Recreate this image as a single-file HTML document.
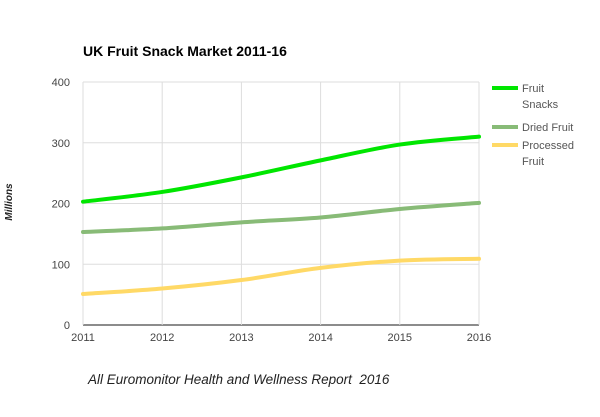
<!DOCTYPE html>
<html><head><meta charset="utf-8"><style>
body{margin:0;background:#fff;width:600px;height:412px;overflow:hidden;font-family:"Liberation Sans",sans-serif}
</style></head><body>
<svg id="chart" width="600" height="412">
<text x="83" y="56" font-size="14" font-weight="bold" fill="#000">UK Fruit Snack Market 2011-16</text>
<text transform="translate(12,202) rotate(-90)" text-anchor="middle" font-size="10" font-weight="bold" font-style="italic" fill="#222">Millions</text>
<text x="88" y="384" font-size="13.5" font-style="italic" fill="#222" xml:space="preserve">All Euromonitor Health and Wellness Report  2016</text>
<g id="grid"></g><g id="series"></g>
<g font-size="11" fill="#555">
<line x1="492" y1="88" x2="518" y2="88" stroke="#00e600" stroke-width="4"/>
<text x="522" y="92">Fruit</text>
<text x="522" y="108">Snacks</text>
<line x1="492" y1="127" x2="518" y2="127" stroke="#88bb77" stroke-width="4"/>
<text x="522" y="131">Dried Fruit</text>
<line x1="492" y1="145" x2="518" y2="145" stroke="#ffd966" stroke-width="4"/>
<text x="522" y="149">Processed</text>
<text x="522" y="165">Fruit</text>
</g>
</svg>
<script>
const years=["2011","2012","2013","2014","2015","2016"];
const fruitSnacks=[203,219,243,271,297,310];
const driedFruit=[153,159,169,177,191,201];
const processedFruit=[51,60,74,94,106,109];
const yTicks=[0,100,200,300,400];
const NS="http://www.w3.org/2000/svg";
const L=83,R=479,T=82,B=325;
const xs=i=>L+(R-L)*i/(years.length-1);
const ys=v=>B-(B-T)*v/400;
const grid=document.getElementById('grid'),ser=document.getElementById('series');
function mk(tag,attrs,parent){const e=document.createElementNS(NS,tag);for(const k in attrs)e.setAttribute(k,attrs[k]);parent.appendChild(e);return e;}
yTicks.forEach(t=>{
 const l=mk('line',{x1:L,x2:R,y1:ys(t),y2:ys(t),stroke:t===0?'#666':'#ddd','stroke-width':t===0?1.5:1},grid);
 
 
 const tx=mk('text',{x:L-13,y:ys(t)+4,'text-anchor':'end','font-size':11,fill:'#444'},grid);
 tx.textContent=t;
 
 
});
years.forEach((y,i)=>{
 const l=mk('line',{x1:xs(i),x2:xs(i),y1:T,y2:B,stroke:'#ddd','stroke-width':1},grid);
 
 
 const tx=mk('text',{x:xs(i),y:B+16,'text-anchor':'middle','font-size':11,fill:'#444'},grid);
 tx.textContent=y;
 
 
});
function path(vals){
 const p=vals.map((v,i)=>[xs(i),ys(v)]);
 let d=`M${p[0][0]},${p[0][1]}`;
 for(let i=0;i<p.length-1;i++){
  const p0=p[Math.max(0,i-1)],p1=p[i],p2=p[i+1],p3=p[Math.min(p.length-1,i+2)];
  const c1=[p1[0]+(p2[0]-p0[0])/6,p1[1]+(p2[1]-p0[1])/6],c2=[p2[0]-(p3[0]-p1[0])/6,p2[1]-(p3[1]-p1[1])/6];
  d+=` C${c1[0]},${c1[1]} ${c2[0]},${c2[1]} ${p2[0]},${p2[1]}`;
 }
 return d;
}
[[processedFruit,'#ffd966','line-processed-fruit'],[driedFruit,'#88bb77','line-dried-fruit'],[fruitSnacks,'#00e600','line-fruit-snacks']].forEach(([v,c,n])=>{
 const e=mk('path',{d:path(v),fill:'none',stroke:c,'stroke-width':4,'stroke-linecap':'round'},ser);
 
 
});
</script>
</body></html>
